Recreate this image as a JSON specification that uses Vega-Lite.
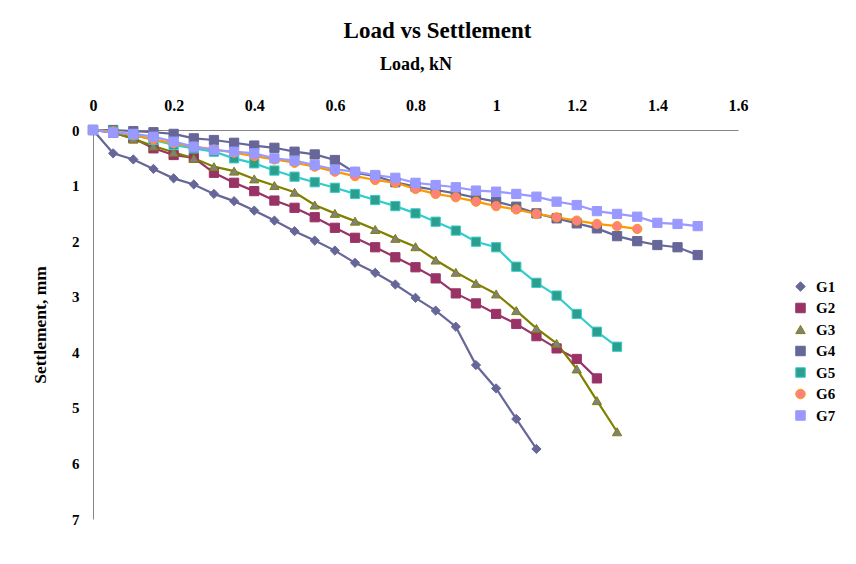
{
  "$schema": "https://vega.github.io/schema/vega-lite/v6.json",
  "width": 645,
  "height": 389,
  "autosize": {"type": "none"},
  "padding": {"left": 93, "top": 130, "right": 118, "bottom": 45},
  "background": "white",
  "title": {"text": "Load vs Settlement", "font": "Liberation Serif", "fontSize": 23, "fontWeight": "bold", "color": "black", "anchor": "middle", "dx": 22, "offset": 12},
  "config": {
    "view": {"stroke": null},
    "font": "Liberation Serif",
    "axis": {"labelFont": "Liberation Serif", "titleFont": "Liberation Serif", "labelFontWeight": "bold", "titleFontWeight": "bold", "labelColor": "black", "titleColor": "black", "grid": false, "ticks": false, "domainColor": "#868686", "domainWidth": 1},
    "legend": {"labelFont": "Liberation Serif", "labelFontWeight": "bold", "labelFontSize": 15, "labelColor": "black", "symbolSize": 90, "rowPadding": 5.5, "labelOffset": 8, "symbolStrokeWidth": 1, "orient": "none", "legendX": 700, "legendY": 149}
  },
  "datasets": {
    "pts": [
      {"s":"G1","load":0,"set":0},{"s":"G1","load":0.05,"set":0.42},{"s":"G1","load":0.1,"set":0.53},{"s":"G1","load":0.15,"set":0.70},{"s":"G1","load":0.2,"set":0.87},{"s":"G1","load":0.25,"set":0.98},{"s":"G1","load":0.3,"set":1.15},{"s":"G1","load":0.35,"set":1.28},{"s":"G1","load":0.4,"set":1.45},{"s":"G1","load":0.45,"set":1.63},{"s":"G1","load":0.5,"set":1.82},{"s":"G1","load":0.55,"set":1.99},{"s":"G1","load":0.6,"set":2.17},{"s":"G1","load":0.65,"set":2.39},{"s":"G1","load":0.7,"set":2.57},{"s":"G1","load":0.75,"set":2.78},{"s":"G1","load":0.8,"set":3.02},{"s":"G1","load":0.85,"set":3.25},{"s":"G1","load":0.9,"set":3.54},{"s":"G1","load":0.95,"set":4.23},{"s":"G1","load":1.0,"set":4.65},{"s":"G1","load":1.05,"set":5.2},{"s":"G1","load":1.1,"set":5.74},
      {"s":"G2","load":0,"set":0},{"s":"G2","load":0.05,"set":0.05},{"s":"G2","load":0.1,"set":0.15},{"s":"G2","load":0.15,"set":0.33},{"s":"G2","load":0.2,"set":0.45},{"s":"G2","load":0.25,"set":0.5},{"s":"G2","load":0.3,"set":0.77},{"s":"G2","load":0.35,"set":0.95},{"s":"G2","load":0.4,"set":1.1},{"s":"G2","load":0.45,"set":1.27},{"s":"G2","load":0.5,"set":1.40},{"s":"G2","load":0.55,"set":1.57},{"s":"G2","load":0.6,"set":1.76},{"s":"G2","load":0.65,"set":1.94},{"s":"G2","load":0.7,"set":2.11},{"s":"G2","load":0.75,"set":2.29},{"s":"G2","load":0.8,"set":2.47},{"s":"G2","load":0.85,"set":2.67},{"s":"G2","load":0.9,"set":2.94},{"s":"G2","load":0.95,"set":3.12},{"s":"G2","load":1.0,"set":3.31},{"s":"G2","load":1.05,"set":3.49},{"s":"G2","load":1.1,"set":3.71},{"s":"G2","load":1.15,"set":3.93},{"s":"G2","load":1.2,"set":4.12},{"s":"G2","load":1.25,"set":4.47},
      {"s":"G3","load":0,"set":0},{"s":"G3","load":0.05,"set":0.04},{"s":"G3","load":0.1,"set":0.16},{"s":"G3","load":0.15,"set":0.29},{"s":"G3","load":0.2,"set":0.40},{"s":"G3","load":0.25,"set":0.51},{"s":"G3","load":0.3,"set":0.66},{"s":"G3","load":0.35,"set":0.74},{"s":"G3","load":0.4,"set":0.88},{"s":"G3","load":0.45,"set":1.0},{"s":"G3","load":0.5,"set":1.12},{"s":"G3","load":0.55,"set":1.35},{"s":"G3","load":0.6,"set":1.50},{"s":"G3","load":0.65,"set":1.64},{"s":"G3","load":0.7,"set":1.79},{"s":"G3","load":0.75,"set":1.95},{"s":"G3","load":0.8,"set":2.10},{"s":"G3","load":0.85,"set":2.34},{"s":"G3","load":0.9,"set":2.56},{"s":"G3","load":0.95,"set":2.76},{"s":"G3","load":1.0,"set":2.95},{"s":"G3","load":1.05,"set":3.25},{"s":"G3","load":1.1,"set":3.57},{"s":"G3","load":1.15,"set":3.84},{"s":"G3","load":1.2,"set":4.30},{"s":"G3","load":1.25,"set":4.87},{"s":"G3","load":1.3,"set":5.43},
      {"s":"G4","load":0,"set":0},{"s":"G4","load":0.05,"set":0.0},{"s":"G4","load":0.1,"set":0.02},{"s":"G4","load":0.15,"set":0.04},{"s":"G4","load":0.2,"set":0.07},{"s":"G4","load":0.25,"set":0.15},{"s":"G4","load":0.3,"set":0.18},{"s":"G4","load":0.35,"set":0.23},{"s":"G4","load":0.4,"set":0.28},{"s":"G4","load":0.45,"set":0.32},{"s":"G4","load":0.5,"set":0.39},{"s":"G4","load":0.55,"set":0.44},{"s":"G4","load":0.6,"set":0.54},{"s":"G4","load":0.65,"set":0.77},{"s":"G4","load":0.7,"set":0.83},{"s":"G4","load":0.75,"set":0.94},{"s":"G4","load":0.8,"set":1.02},{"s":"G4","load":0.85,"set":1.08},{"s":"G4","load":0.9,"set":1.14},{"s":"G4","load":0.95,"set":1.22},{"s":"G4","load":1.0,"set":1.29},{"s":"G4","load":1.05,"set":1.38},{"s":"G4","load":1.1,"set":1.50},{"s":"G4","load":1.15,"set":1.59},{"s":"G4","load":1.2,"set":1.68},{"s":"G4","load":1.25,"set":1.77},{"s":"G4","load":1.3,"set":1.91},{"s":"G4","load":1.35,"set":2.0},{"s":"G4","load":1.4,"set":2.07},{"s":"G4","load":1.45,"set":2.11},{"s":"G4","load":1.5,"set":2.25},
      {"s":"G5","load":0,"set":0},{"s":"G5","load":0.05,"set":0.03},{"s":"G5","load":0.1,"set":0.09},{"s":"G5","load":0.15,"set":0.18},{"s":"G5","load":0.2,"set":0.27},{"s":"G5","load":0.25,"set":0.33},{"s":"G5","load":0.3,"set":0.39},{"s":"G5","load":0.35,"set":0.51},{"s":"G5","load":0.4,"set":0.60},{"s":"G5","load":0.45,"set":0.73},{"s":"G5","load":0.5,"set":0.84},{"s":"G5","load":0.55,"set":0.94},{"s":"G5","load":0.6,"set":1.04},{"s":"G5","load":0.65,"set":1.15},{"s":"G5","load":0.7,"set":1.26},{"s":"G5","load":0.75,"set":1.37},{"s":"G5","load":0.8,"set":1.50},{"s":"G5","load":0.85,"set":1.65},{"s":"G5","load":0.9,"set":1.81},{"s":"G5","load":0.95,"set":2.01},{"s":"G5","load":1.0,"set":2.11},{"s":"G5","load":1.05,"set":2.46},{"s":"G5","load":1.1,"set":2.75},{"s":"G5","load":1.15,"set":2.98},{"s":"G5","load":1.2,"set":3.31},{"s":"G5","load":1.25,"set":3.63},{"s":"G5","load":1.3,"set":3.90},
      {"s":"G6","load":0,"set":0},{"s":"G6","load":0.05,"set":0.03},{"s":"G6","load":0.1,"set":0.09},{"s":"G6","load":0.15,"set":0.17},{"s":"G6","load":0.2,"set":0.24},{"s":"G6","load":0.25,"set":0.30},{"s":"G6","load":0.3,"set":0.35},{"s":"G6","load":0.35,"set":0.41},{"s":"G6","load":0.4,"set":0.47},{"s":"G6","load":0.45,"set":0.53},{"s":"G6","load":0.5,"set":0.59},{"s":"G6","load":0.55,"set":0.66},{"s":"G6","load":0.6,"set":0.75},{"s":"G6","load":0.65,"set":0.83},{"s":"G6","load":0.7,"set":0.90},{"s":"G6","load":0.75,"set":0.95},{"s":"G6","load":0.8,"set":1.06},{"s":"G6","load":0.85,"set":1.15},{"s":"G6","load":0.9,"set":1.21},{"s":"G6","load":0.95,"set":1.29},{"s":"G6","load":1.0,"set":1.37},{"s":"G6","load":1.05,"set":1.43},{"s":"G6","load":1.1,"set":1.51},{"s":"G6","load":1.15,"set":1.57},{"s":"G6","load":1.2,"set":1.63},{"s":"G6","load":1.25,"set":1.69},{"s":"G6","load":1.3,"set":1.73},{"s":"G6","load":1.35,"set":1.78},
      {"s":"G7","load":0,"set":0},{"s":"G7","load":0.05,"set":0.05},{"s":"G7","load":0.1,"set":0.07},{"s":"G7","load":0.15,"set":0.12},{"s":"G7","load":0.2,"set":0.21},{"s":"G7","load":0.25,"set":0.30},{"s":"G7","load":0.3,"set":0.36},{"s":"G7","load":0.35,"set":0.39},{"s":"G7","load":0.4,"set":0.42},{"s":"G7","load":0.45,"set":0.51},{"s":"G7","load":0.5,"set":0.55},{"s":"G7","load":0.55,"set":0.63},{"s":"G7","load":0.6,"set":0.71},{"s":"G7","load":0.65,"set":0.75},{"s":"G7","load":0.7,"set":0.81},{"s":"G7","load":0.75,"set":0.86},{"s":"G7","load":0.8,"set":0.95},{"s":"G7","load":0.85,"set":0.99},{"s":"G7","load":0.9,"set":1.03},{"s":"G7","load":0.95,"set":1.09},{"s":"G7","load":1.0,"set":1.11},{"s":"G7","load":1.05,"set":1.15},{"s":"G7","load":1.1,"set":1.20},{"s":"G7","load":1.15,"set":1.29},{"s":"G7","load":1.2,"set":1.35},{"s":"G7","load":1.25,"set":1.46},{"s":"G7","load":1.3,"set":1.51},{"s":"G7","load":1.35,"set":1.56},{"s":"G7","load":1.4,"set":1.67},{"s":"G7","load":1.45,"set":1.69},{"s":"G7","load":1.5,"set":1.73}
    ]
  },
  "data": {"name": "pts"},
  "encoding": {
    "x": {"field": "load", "type": "quantitative", "title": "Load, kN",
      "scale": {"domain": [0, 1.6], "nice": false, "zero": true},
      "axis": {"orient": "top", "values": [0,0.2,0.4,0.6,0.8,1,1.2,1.4,1.6], "format": "~g", "labelFontSize": 16, "titleFontSize": 18, "labelPadding": 17, "titlePadding": 24, "labelFlush": false}},
    "y": {"field": "set", "type": "quantitative", "title": "Settlement, mm",
      "scale": {"domain": [0, 7], "reverse": true, "nice": false},
      "axis": {"values": [0,1,2,3,4,5,6,7], "format": "d", "labelFontSize": 15, "titleFontSize": 17.5, "labelPadding": 14, "titlePadding": 22, "labelFlush": false}}
  },
  "layer": [
    {
      "mark": {"type": "line", "strokeWidth": 2.2},
      "encoding": {
        "stroke": {"field": "s", "type": "nominal", "title": null,
          "scale": {"domain": ["G1","G2","G3","G4","G5","G6","G7"], "range": ["#666699","#993366","#808000","#666699","#33CCCC","#FF9900","#9999FF"]}},
        "order": {"field": "load", "type": "quantitative"}
      }
    },
    {
      "mark": {"type": "point", "filled": true, "opacity": 1, "strokeWidth": 1, "size": 85},
      "encoding": {
        "fill": {"field": "s", "type": "nominal", "title": null,
          "scale": {"domain": ["G1","G2","G3","G4","G5","G6","G7"], "range": ["#666699","#993366","#808080","#666699","#2E9E8C","#FF8080","#9999FF"]}},
        "shape": {"field": "s", "type": "nominal", "title": null,
          "scale": {"domain": ["G1","G2","G3","G4","G5","G6","G7"], "range": ["diamond","square","triangle-up","square","square","circle","square"]}},
        "stroke": {"field": "s", "type": "nominal", "title": null}
      }
    }
  ]
}
